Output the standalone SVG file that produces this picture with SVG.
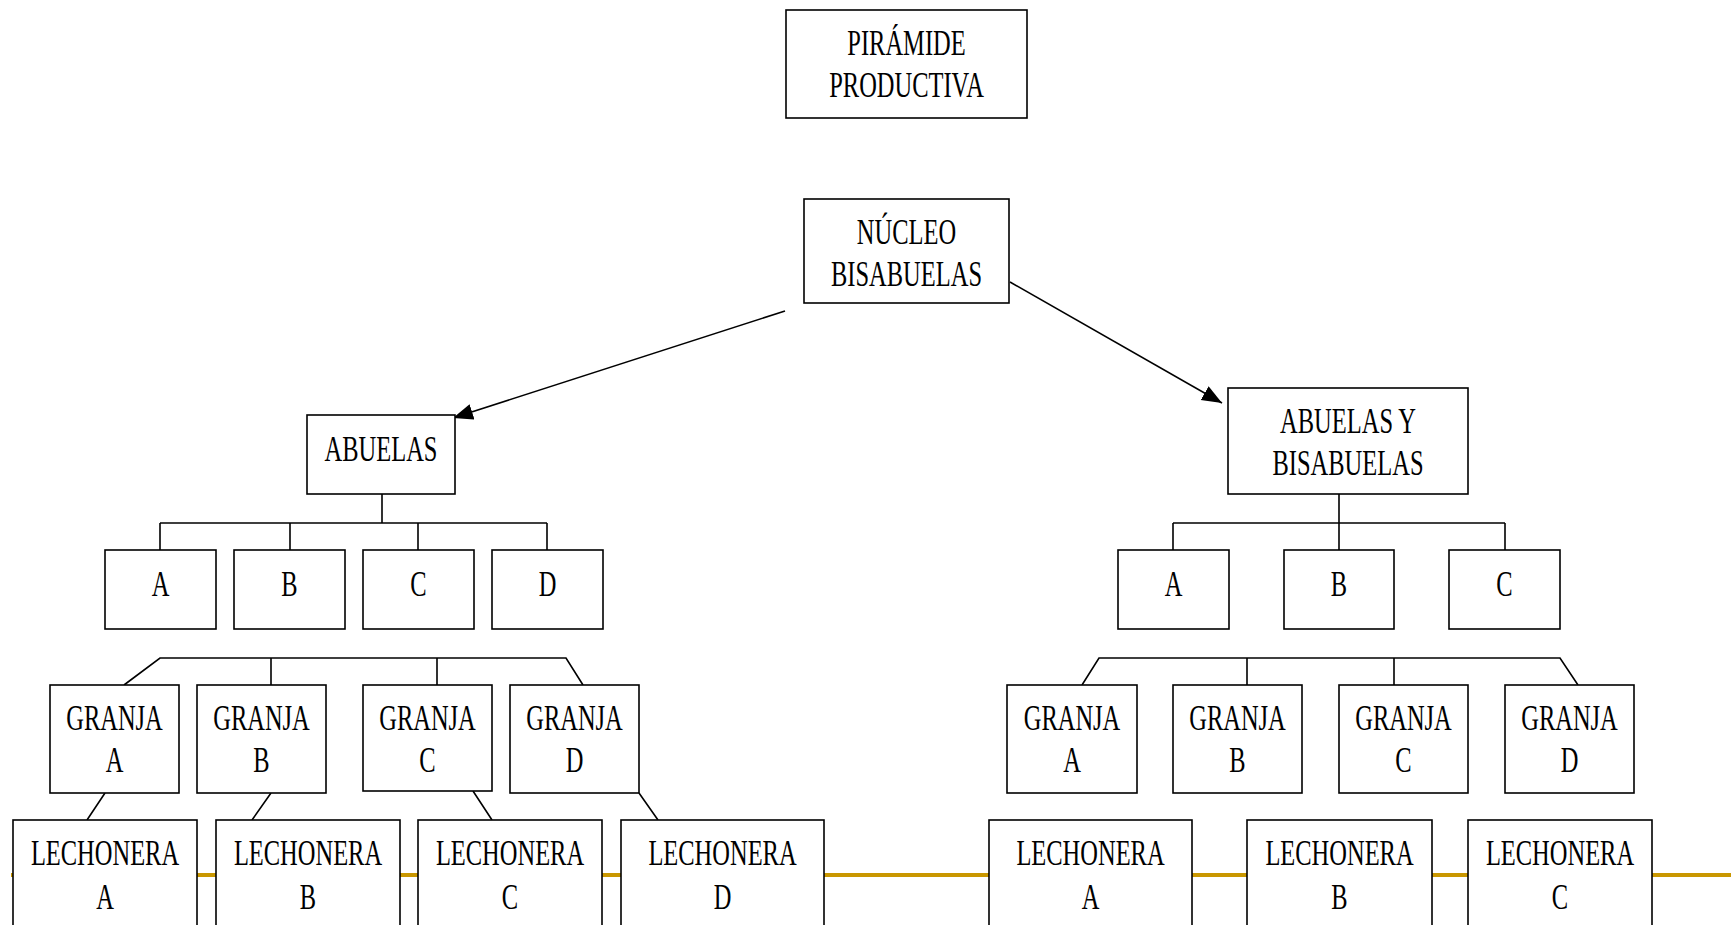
<svg xmlns="http://www.w3.org/2000/svg" width="1731" height="925" viewBox="0 0 1731 925">
<style>
.bx{fill:#fff;stroke:#000;stroke-width:1.6}
.t{font-family:"Liberation Serif","Times New Roman",serif;font-size:35px;fill:#000;text-anchor:middle}
.c{fill:none;stroke:#000;stroke-width:1.6}
.gold{stroke:#C99700;stroke-width:4}
</style>
<defs>
<marker id="ah" markerUnits="userSpaceOnUse" markerWidth="22" markerHeight="18" refX="20" refY="8" orient="auto">
<path d="M0,0 L20,8 L0,16 z" fill="#000"/>
</marker>
</defs>
<rect width="1731" height="925" fill="#fff"/>
<line class="gold" x1="11" y1="875" x2="1731" y2="875"/>
<g id="connectors">
<line class="c" x1="785" y1="311" x2="453" y2="418" marker-end="url(#ah)"/>
<line class="c" x1="1010" y1="282" x2="1222" y2="403" marker-end="url(#ah)"/>
<path class="c" d="M382,494 V523 M160,523 H547 M160,523 V550 M290,523 V550 M418,523 V550 M547,523 V550"/>
<path class="c" d="M1339,494 V523 M1173,523 H1505 M1173,523 V550 M1339,523 V550 M1505,523 V550"/>
<path class="c" d="M124,685 L160,658 H566 L583,685 M271,658 V685 M437,658 V685"/>
<path class="c" d="M1082,685 L1099,658 H1560 L1578,685 M1247,658 V685 M1394,658 V685"/>
<path class="c" d="M105,793 L87,820 M271,793 L252,820 M473,791 L492,820 M639,793 L658,820"/>
</g>
<g id="piramide"><rect class="bx" x="786" y="10" width="241" height="108"/>
<text class="t" transform="translate(906.5,55) scale(0.7,1)">PIRÁMIDE</text>
<text class="t" transform="translate(906.5,97) scale(0.7,1)">PRODUCTIVA</text></g>
<g id="nucleo"><rect class="bx" x="804" y="199" width="205" height="104"/>
<text class="t" transform="translate(906.5,244) scale(0.7,1)">NÚCLEO</text>
<text class="t" transform="translate(906.5,286) scale(0.7,1)">BISABUELAS</text></g>
<g id="abuelas"><rect class="bx" x="307" y="415" width="148" height="79"/>
<text class="t" transform="translate(381,461) scale(0.7,1)">ABUELAS</text></g>
<g id="abuelas-bisabuelas"><rect class="bx" x="1228" y="388" width="240" height="106"/>
<text class="t" transform="translate(1348,433) scale(0.7,1)">ABUELAS Y</text>
<text class="t" transform="translate(1348,475) scale(0.7,1)">BISABUELAS</text></g>
<g id="l-a"><rect class="bx" x="105" y="550" width="111" height="79"/><text class="t" transform="translate(160.5,596) scale(0.7,1)">A</text></g>
<g id="l-b"><rect class="bx" x="234" y="550" width="111" height="79"/><text class="t" transform="translate(289.5,596) scale(0.7,1)">B</text></g>
<g id="l-c"><rect class="bx" x="363" y="550" width="111" height="79"/><text class="t" transform="translate(418.5,596) scale(0.7,1)">C</text></g>
<g id="l-d"><rect class="bx" x="492" y="550" width="111" height="79"/><text class="t" transform="translate(547.5,596) scale(0.7,1)">D</text></g>
<g id="r-a"><rect class="bx" x="1118" y="550" width="111" height="79"/><text class="t" transform="translate(1173.5,596) scale(0.7,1)">A</text></g>
<g id="r-b"><rect class="bx" x="1284" y="550" width="110" height="79"/><text class="t" transform="translate(1339,596) scale(0.7,1)">B</text></g>
<g id="r-c"><rect class="bx" x="1449" y="550" width="111" height="79"/><text class="t" transform="translate(1504.5,596) scale(0.7,1)">C</text></g>
<g id="lg-a"><rect class="bx" x="50" y="685" width="129" height="108"/><text class="t" transform="translate(114.5,730) scale(0.7,1)">GRANJA</text><text class="t" transform="translate(114.5,772) scale(0.7,1)">A</text></g>
<g id="lg-b"><rect class="bx" x="197" y="685" width="129" height="108"/><text class="t" transform="translate(261.5,730) scale(0.7,1)">GRANJA</text><text class="t" transform="translate(261.5,772) scale(0.7,1)">B</text></g>
<g id="lg-c"><rect class="bx" x="363" y="685" width="129" height="106"/><text class="t" transform="translate(427.5,730) scale(0.7,1)">GRANJA</text><text class="t" transform="translate(427.5,772) scale(0.7,1)">C</text></g>
<g id="lg-d"><rect class="bx" x="510" y="685" width="129" height="108"/><text class="t" transform="translate(574.5,730) scale(0.7,1)">GRANJA</text><text class="t" transform="translate(574.5,772) scale(0.7,1)">D</text></g>
<g id="rg-a"><rect class="bx" x="1007" y="685" width="130" height="108"/><text class="t" transform="translate(1072,730) scale(0.7,1)">GRANJA</text><text class="t" transform="translate(1072,772) scale(0.7,1)">A</text></g>
<g id="rg-b"><rect class="bx" x="1173" y="685" width="129" height="108"/><text class="t" transform="translate(1237.5,730) scale(0.7,1)">GRANJA</text><text class="t" transform="translate(1237.5,772) scale(0.7,1)">B</text></g>
<g id="rg-c"><rect class="bx" x="1339" y="685" width="129" height="108"/><text class="t" transform="translate(1403.5,730) scale(0.7,1)">GRANJA</text><text class="t" transform="translate(1403.5,772) scale(0.7,1)">C</text></g>
<g id="rg-d"><rect class="bx" x="1505" y="685" width="129" height="108"/><text class="t" transform="translate(1569.5,730) scale(0.7,1)">GRANJA</text><text class="t" transform="translate(1569.5,772) scale(0.7,1)">D</text></g>
<g id="ll-a"><rect class="bx" x="13" y="820" width="184" height="120"/><text class="t" transform="translate(105,865) scale(0.7,1)">LECHONERA</text><text class="t" transform="translate(105,909) scale(0.7,1)">A</text></g>
<g id="ll-b"><rect class="bx" x="216" y="820" width="184" height="120"/><text class="t" transform="translate(308,865) scale(0.7,1)">LECHONERA</text><text class="t" transform="translate(308,909) scale(0.7,1)">B</text></g>
<g id="ll-c"><rect class="bx" x="418" y="820" width="184" height="120"/><text class="t" transform="translate(510,865) scale(0.7,1)">LECHONERA</text><text class="t" transform="translate(510,909) scale(0.7,1)">C</text></g>
<g id="ll-d"><rect class="bx" x="621" y="820" width="203" height="120"/><text class="t" transform="translate(722.5,865) scale(0.7,1)">LECHONERA</text><text class="t" transform="translate(722.5,909) scale(0.7,1)">D</text></g>
<g id="rl-a"><rect class="bx" x="989" y="820" width="203" height="120"/><text class="t" transform="translate(1090.5,865) scale(0.7,1)">LECHONERA</text><text class="t" transform="translate(1090.5,909) scale(0.7,1)">A</text></g>
<g id="rl-b"><rect class="bx" x="1247" y="820" width="185" height="120"/><text class="t" transform="translate(1339.5,865) scale(0.7,1)">LECHONERA</text><text class="t" transform="translate(1339.5,909) scale(0.7,1)">B</text></g>
<g id="rl-c"><rect class="bx" x="1468" y="820" width="184" height="120"/><text class="t" transform="translate(1560,865) scale(0.7,1)">LECHONERA</text><text class="t" transform="translate(1560,909) scale(0.7,1)">C</text></g>
</svg>
